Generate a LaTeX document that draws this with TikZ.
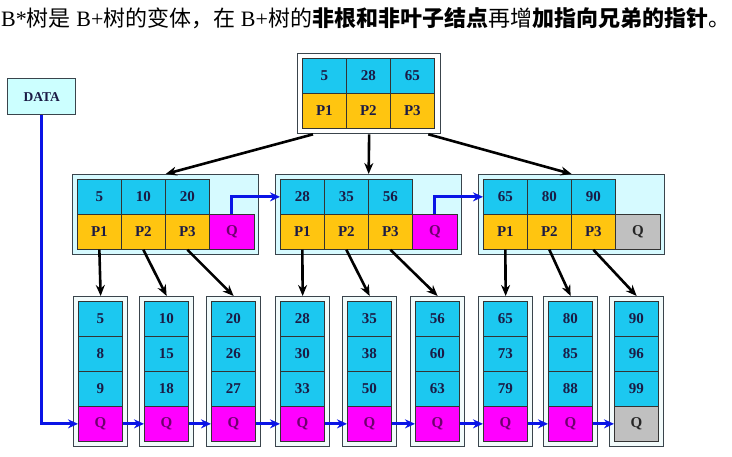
\documentclass[tikz,border=0pt]{standalone}
\usepackage{fontspec}
\setmainfont{Liberation Serif}
\newfontfamily\cjk{Noto Sans CJK SC}
\usetikzlibrary{arrows.meta,positioning,calc}

\definecolor{keyblue}{HTML}{1CC8F0}
\definecolor{ptrgold}{HTML}{FFC510}
\definecolor{qpink}{HTML}{FF00FF}
\definecolor{qgray}{HTML}{C0C0C0}
\definecolor{framepale}{HTML}{D6FAFF}
\definecolor{leafpale}{HTML}{F2FBFB}
\definecolor{datacyan}{HTML}{CCFFFF}
\definecolor{frameline}{HTML}{3A444C}
\definecolor{celltext}{HTML}{1B1B45}
\definecolor{qtext}{HTML}{6E006E}
\definecolor{linkblue}{HTML}{0A14E6}

\tikzset{
  cell/.style={draw=black!80, line width=0.7pt, minimum width=44pt, minimum height=35pt,
    inner sep=0pt, anchor=north west, font=\fontsize{15}{17}\selectfont\bfseries, text=celltext},
  keycell/.style={cell, fill=keyblue},
  ptrcell/.style={cell, fill=ptrgold},
  qcell/.style={cell, fill=qpink, text=qtext},
  endcell/.style={cell, fill=qgray, text=black!85},
  frame/.style={draw=frameline, line width=1.3pt, inner sep=0pt, anchor=north west},
  down/.style={-{Stealth[length=11pt,width=9pt]}, line width=2.6pt, black},
  link/.style={-{Stealth[length=10pt,width=9pt]}, line width=2.8pt, linkblue},
}

\begin{document}
\begin{tikzpicture}[x=1pt,y=-1pt]
    \useasboundingbox (0,0) rectangle (732,456);

    % Title
    \node[anchor=west, inner sep=0pt, font=\fontsize{22}{24}\selectfont] (title) at (1,18)
      {B*{\cjk 树是} B+{\cjk 树的变体，在} B+{\cjk 树的}{\cjk\bfseries 非根和非叶子结点}{\cjk 再增}{\cjk\bfseries 加指向兄弟的指针}{\cjk 。}};

    % DATA entry
    \node[frame, fill=datacyan, minimum width=68pt, minimum height=36pt,
      font=\fontsize{13.5}{15}\selectfont\bfseries, text=celltext] (data) at (7,78) {DATA};

    % Root node
    \node[frame, fill=white, minimum width=143pt, minimum height=80pt] (root) at (297,53) {};
    \foreach \k [count=\i] in {5,28,65} {
      \node[keycell] (r-k\i) at ({302+44*(\i-1)},58) {\k};
      \node[ptrcell] (r-p\i) at ({302+44*(\i-1)},93) {P\i};
    }

    % Non-leaf nodes of the second level
    \foreach \x/\a/\b/\c [count=\n] in {72/5/10/20, 275/28/35/56, 478/65/80/90} {
      \node[frame, fill=framepale, minimum width=186pt, minimum height=80pt] (m\n) at (\x,174) {};
      \foreach \k [count=\i] in {\a,\b,\c} {
        \node[keycell] (m\n-k\i) at ({\x+5+44*(\i-1)},179) {\k};
        \node[ptrcell] (m\n-p\i) at ({\x+5+44*(\i-1)},214) {P\i};
      }
    }
    \node[qcell, minimum width=45pt] (m1-q) at (209,214) {Q};
    \node[qcell, minimum width=45pt] (m2-q) at (412,214) {Q};
    \node[endcell, minimum width=45pt] (m3-q) at (615,214) {Q};

    % Leaf nodes
    \foreach \x/\a/\b/\c [count=\n] in {73/5/8/9, 139/10/15/18, 206/20/26/27, 275/28/30/33,
        342/35/38/50, 410/56/60/63, 478/65/73/79, 543/80/85/88, 609/90/96/99} {
      \node[frame, fill=leafpale, minimum width=54pt, minimum height=150pt] (l\n) at (\x,296) {};
      \foreach \k [count=\i] in {\a,\b,\c}
        \node[keycell] (l\n-k\i) at ({\x+5},{301+35*(\i-1)}) {\k};
      \ifnum\n=9 \def\qstyle{endcell}\else\def\qstyle{qcell}\fi
      \node[\qstyle] (l\n-q) at ({\x+5},406) {Q};
    }

    % Root pointers
    \draw[down] ($(root.south west)+(16,0)$) -- (m1.north);
    \draw[down] (root.south) -- (m2.north);
    \draw[down] ($(root.south east)+(-13,0)$) -- (m3.north);

    % Pointers to the leaves
    \foreach \n in {1,2,3}
      \foreach \i in {1,2,3} {
        \pgfmathtruncatemacro\leaf{3*(\n-1)+\i}
        \draw[down] (m\n-p\i.south) -- (l\leaf.north);
      }

    % Sibling pointers
    \draw[link] (m1-q.north) |- (m2-k1.west);
    \draw[link] (m2-q.north) |- (m3-k1.west);
    \draw[link] (data.south) |- (l1-q.west);
    \foreach \n in {1,...,8} {
      \pgfmathtruncatemacro\next{\n+1}
      \draw[link] (l\n-q.east) -- (l\next-q.west);
    }
  \end{tikzpicture}
\end{document}
